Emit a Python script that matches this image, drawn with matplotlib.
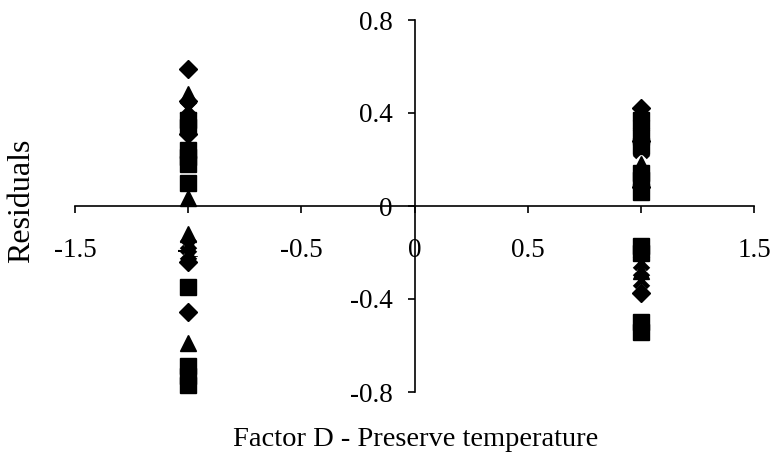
import matplotlib
matplotlib.use("Agg")
import matplotlib.pyplot as plt

plt.rcParams['font.family'] = ['Liberation Serif', 'DejaVu Serif']

# Factor D levels (coded) and residuals for each response series
diamond_x = [-1, -1, -1, -1, -1, 1, 1, 1, 1]
diamond_y = [0.59, 0.45, 0.31, -0.24, -0.455, 0.42, 0.28, 0.08, -0.375]

square_x = [-1, -1, -1, -1, -1, -1, -1, -1, -1, -1,
            1, 1, 1, 1, 1, 1, 1, 1, 1, 1]
square_y = [0.37, 0.34, 0.24, 0.21, 0.18, 0.10, -0.35, -0.69, -0.73, -0.77,
            0.37, 0.30, 0.26, 0.14, 0.11, 0.06, -0.17, -0.20, -0.50, -0.54]

triangle_x = [-1, -1, -1, -1, 1, 1, 1]
triangle_y = [0.48, 0.035, -0.12, -0.59, 0.40, 0.18, -0.28]

cross_x = [-1, -1, -1, 1, 1, 1, 1]
cross_y = [0.42, -0.17, -0.20, 0.35, 0.24, -0.24, -0.32]

x_ticks = [-1.5, -1.0, -0.5, 0.0, 0.5, 1.0, 1.5]
x_tick_labels = ['-1.5', '-1', '-0.5', '0', '0.5', '1', '1.5']
y_ticks = [-0.8, -0.4, 0.0, 0.4, 0.8]
y_tick_labels = ['-0.8', '-0.4', '0', '0.4', '0.8']

fig = plt.figure(figsize=(7.72, 4.66), dpi=100)
ax = fig.add_axes([75 / 772, 1 - 392 / 466, 679 / 772, 372 / 466])

ax.plot(diamond_x, diamond_y, linestyle='none', marker='D', ms=9.5,
        color='black', zorder=5, clip_on=False)
ax.plot(square_x, square_y, linestyle='none', marker='s', ms=11,
        color='black', zorder=5, clip_on=False)
ax.plot(triangle_x, triangle_y, linestyle='none', marker='^', ms=12,
        color='black', zorder=5, clip_on=False)
ax.plot(cross_x, cross_y, linestyle='none', marker='x', ms=10, mew=3.5,
        color='black', zorder=5, clip_on=False)

ax.set_xlim(-1.5, 1.5)
ax.set_ylim(-0.8, 0.8)

for side in ('top', 'right'):
    ax.spines[side].set_visible(False)
ax.spines['left'].set_position(('data', 0))
ax.spines['bottom'].set_position(('data', 0))
for side in ('left', 'bottom'):
    ax.spines[side].set_linewidth(1.2)

ax.set_xticks(x_ticks)
ax.set_xticklabels(x_tick_labels)
ax.set_yticks(y_ticks)
ax.set_yticklabels(y_tick_labels)
ax.tick_params(axis='both', direction='out', length=5, width=1.2,
               labelsize=19.5)
ax.tick_params(axis='x', pad=18)
ax.tick_params(axis='y', pad=11)

fig.text(416 / 772, 1 - 440 / 466, 'Factor D - Preserve temperature',
         ha='center', va='center', fontsize=20.5)
fig.text(22 / 772, 1 - 201 / 466, 'Residuals', ha='center', va='center',
         rotation=90, fontsize=23)

fig.savefig('out.png', dpi=100)
